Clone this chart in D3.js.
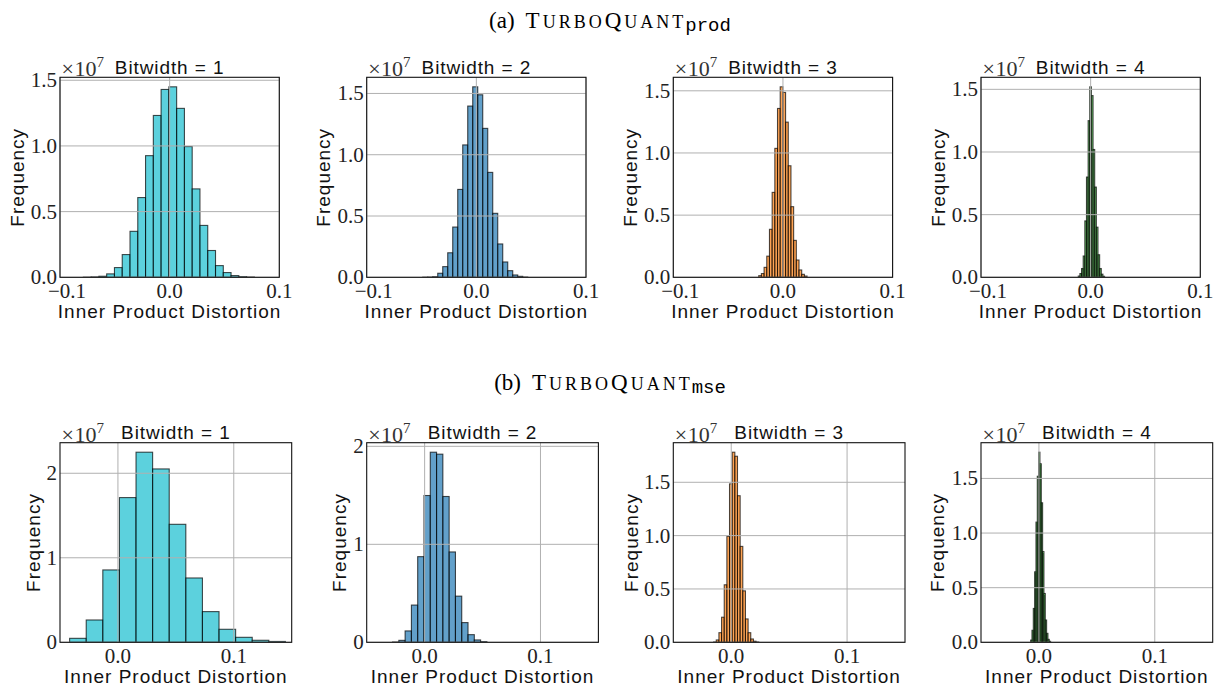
<!DOCTYPE html>
<html><head><meta charset="utf-8">
<script src="https://cdn.jsdelivr.net/npm/d3@7"></script>
<style>body{margin:0;background:#fff}</style>
</head><body>
<svg id="chart" width="1221" height="690"></svg>
<script>
// ---------------- DATA (frequency in units of 1e7) ----------------
const bitwidths = [1, 2, 3, 4];
const seriesColors = ["#17becf", "#1f77b4", "#ff7f0e", "#2ca02c"];

// (a) TurboQuant_prod : histogram bin start, bin width and counts
const prodBinStart = [-0.0787, -0.0489, -0.0221, -0.0113];
const prodBinWidth = [0.00709, 0.00456, 0.00245, 0.0015];
const prodCounts1 = [0.001, 0.003, 0.008, 0.026, 0.074, 0.173, 0.35, 0.607, 0.926, 1.232, 1.43, 1.45, 1.286, 0.995, 0.673, 0.395, 0.204, 0.089, 0.036, 0.013, 0.005, 0.002];
const prodCounts2 = [0.001, 0.002, 0.005, 0.033, 0.087, 0.2, 0.41, 0.717, 1.08, 1.397, 1.554, 1.489, 1.215, 0.856, 0.522, 0.272, 0.125, 0.054, 0.019, 0.008, 0.002];
const prodCounts3 = [0.013, 0.03, 0.08, 0.17, 0.386, 0.683, 1.037, 1.358, 1.532, 1.487, 1.248, 0.897, 0.568, 0.297, 0.139, 0.059, 0.024, 0.01];
const prodCounts4 = [0.01, 0.03, 0.07, 0.17, 0.45, 0.80, 1.25, 1.52, 1.45, 1.02, 0.72, 0.40, 0.18, 0.07, 0.025, 0.008];

// (b) TurboQuant_mse
const mseBinStart = [-0.0417, -0.0277, -0.0152, -0.00716];
const mseBinWidth = [0.01433, 0.00543, 0.00229, 0.00115];
const mseCounts1 = [0.047, 0.264, 0.856, 1.712, 2.249, 2.051, 1.396, 0.761, 0.363, 0.154, 0.059, 0.024, 0.01];
const mseCounts2 = [0.003, 0.02, 0.116, 0.38, 0.874, 1.498, 1.94, 1.92, 1.488, 0.922, 0.471, 0.201, 0.078, 0.024, 0.007];
const mseCounts3 = [0.003, 0.022, 0.09, 0.235, 0.539, 0.993, 1.485, 1.782, 1.744, 1.374, 0.899, 0.482, 0.219, 0.09, 0.031, 0.01, 0.003];
const mseCounts4 = [0.02, 0.11, 0.31, 0.645, 1.10, 1.52, 1.74, 1.634, 1.277, 0.83, 0.447, 0.204, 0.082, 0.027, 0.009];

// axis ranges / ticks
const prodXDomain = [-0.1, 0.1];
const mseXDomain = [-0.05, 0.15];
const prodXTicks = [-0.1, 0.0, 0.1];
const mseXTicks = [0.0, 0.1];
const prodYTicks = [0, 0.5, 1.0, 1.5];
const mseYTicks = [[0, 1, 2], [0, 1, 2], [0, 0.5, 1.0, 1.5], [0, 0.5, 1.0, 1.5]];
const mseYTickDecimals = [0, 0, 1, 1];

const xLabelText = "Inner Product Distortion";
const yLabelText = "Frequency";
const rowTitles = [{prefix: "(a)", sub: "prod"}, {prefix: "(b)", sub: "mse"}];

// ---------------- LAYOUT ----------------
const svg = d3.select("#chart");
const panelLefts = [60, 366.7, 673.3, 981];
const rows = [
  {top: 77.3, height: 200, width: 219.3, starts: prodBinStart, widths: prodBinWidth,
   counts: [prodCounts1, prodCounts2, prodCounts3, prodCounts4],
   xDomain: prodXDomain, xTicks: prodXTicks, yTicks: [prodYTicks, prodYTicks, prodYTicks, prodYTicks],
   yDec: [1, 1, 1, 1], ylabOff: [43, 43, 43, 43]},
  {top: 442.7, height: 199.6, width: 231.7, starts: mseBinStart, widths: mseBinWidth,
   counts: [mseCounts1, mseCounts2, mseCounts3, mseCounts4],
   xDomain: mseXDomain, xTicks: mseXTicks, yTicks: mseYTicks,
   yDec: mseYTickDecimals, ylabOff: [27, 27, 42, 44]}
];

const serif = "'Liberation Serif', 'Times New Roman', serif";
const sans = "'Liberation Sans', Arial, sans-serif";
const mono = "'Liberation Mono', 'Courier New', monospace";

function fmtTick(v, dec) {
  const s = Math.abs(v).toFixed(dec);
  return (v < 0 ? "\u2212" : "") + s;
}

rows.forEach((row, ri) => {
  bitwidths.forEach((bw, pi) => {
    const left = panelLefts[pi], top = row.top, W = row.width, H = row.height;
    const counts = row.counts[pi];
    const start = row.starts[pi], bwid = row.widths[pi];
    const bins = counts.map((c, i) => ({x0: start + i * bwid, x1: start + (i + 1) * bwid, c}));
    const x = d3.scaleLinear().domain(row.xDomain).range([left, left + W]);
    const y = d3.scaleLinear().domain([0, d3.max(counts) * 1.05]).range([top + H, top]);
    const g = svg.append("g");
    const clipId = "clip" + ri + pi;
    g.append("clipPath").attr("id", clipId).append("rect")
      .attr("x", left).attr("y", top).attr("width", W).attr("height", H);

    // bars
    g.append("g").attr("clip-path", `url(#${clipId})`)
      .selectAll("rect").data(bins).join("rect")
      .attr("x", d => x(d.x0)).attr("width", d => x(d.x1) - x(d.x0))
      .attr("y", d => y(d.c)).attr("height", d => y(0) - y(d.c))
      .attr("fill", seriesColors[pi]).attr("fill-opacity", 0.7)
      .attr("stroke", "#000").attr("stroke-opacity", 0.7).attr("stroke-width", 1.1);

    // grid (drawn above bars)
    const grid = g.append("g").attr("stroke", "#b0b0b0").attr("stroke-width", 1);
    grid.selectAll("line.gx").data(row.xTicks).join("line")
      .attr("x1", d => x(d)).attr("x2", d => x(d)).attr("y1", top).attr("y2", top + H);
    grid.selectAll("line.gy").data(row.yTicks[pi]).join("line")
      .attr("y1", d => y(d)).attr("y2", d => y(d)).attr("x1", left).attr("x2", left + W);

    // frame
    g.append("rect").attr("x", left).attr("y", top).attr("width", W).attr("height", H)
      .attr("fill", "none").attr("stroke", "#111").attr("stroke-width", 1.1);

    // y tick labels
    g.selectAll("text.yt").data(row.yTicks[pi]).join("text")
      .attr("x", left - 3).attr("y", d => y(d)).attr("dy", "0.33em")
      .attr("text-anchor", "end").attr("font-family", serif).attr("font-size", 21)
      .attr("fill", "#222").text(d => fmtTick(d, row.yDec[pi]));

    // x tick labels
    g.selectAll("text.xt").data(row.xTicks).join("text")
      .attr("x", d => x(d) + (d < 0 ? 7 : 0)).attr("y", top + H + 20.5)
      .attr("text-anchor", "middle").attr("font-family", serif).attr("font-size", 21)
      .attr("fill", "#222").text(d => fmtTick(d, 1));

    // x label
    g.append("text").attr("x", left + W / 2).attr("y", top + H + 41)
      .attr("text-anchor", "middle").attr("font-family", sans).attr("font-size", 19)
      .attr("letter-spacing", 1).attr("fill", "#111").text(xLabelText);

    // y label
    const yl = left - row.ylabOff[pi], yc = top + H / 2;
    g.append("text").attr("transform", `translate(${yl},${yc}) rotate(-90)`)
      .attr("dy", "0.35em").attr("text-anchor", "middle").attr("font-family", sans)
      .attr("font-size", 19).attr("letter-spacing", 1).attr("fill", "#111").text(yLabelText);

    // title
    g.append("text").attr("x", left + W / 2).attr("y", top - 3.4)
      .attr("text-anchor", "middle").attr("font-family", sans).attr("font-size", 19)
      .attr("letter-spacing", 0.9).attr("fill", "#111").text(`Bitwidth = ${bw}`);

    // offset text x10^7
    const ot = g.append("text").attr("x", left + 1.5).attr("y", top - 1)
      .attr("font-family", serif).attr("font-size", 22).attr("fill", "#333");
    ot.append("tspan").text("\u00d7");
    ot.append("tspan").attr("dx", 0.5).text("10");
    ot.append("tspan").attr("dy", -9).attr("font-size", 15).text("7");
  });
});

// row titles
const titleY = [28.3, 389.5];
rowTitles.forEach((t, i) => {
  const tx = svg.append("text").attr("x", 610).attr("y", titleY[i])
    .attr("text-anchor", "middle").attr("font-family", serif).attr("font-size", 23).attr("fill", "#000");
  tx.append("tspan").text(t.prefix);
  tx.append("tspan").attr("dx", 11).attr("letter-spacing", 3).text("T");
  tx.append("tspan").attr("font-size", 18).attr("letter-spacing", 3).text("URBO");
  tx.append("tspan").attr("letter-spacing", 3).text("Q");
  tx.append("tspan").attr("font-size", 18).attr("letter-spacing", 3).text("UANT");
  tx.append("tspan").attr("font-family", mono).attr("font-size", 19).attr("dy", 3).attr("dx", -1).text(t.sub);
});
</script>
</body></html>
